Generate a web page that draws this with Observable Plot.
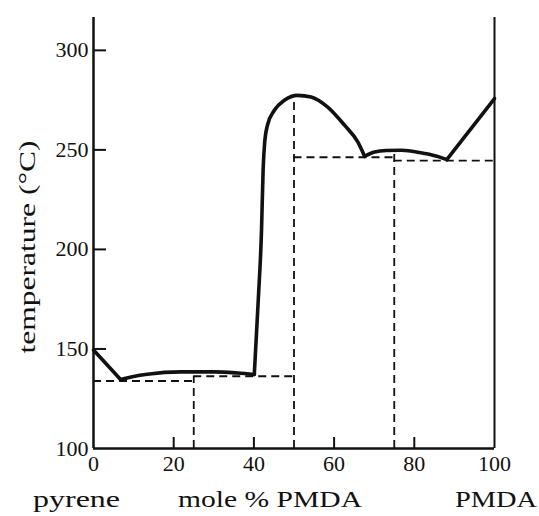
<!DOCTYPE html>
<html><head><meta charset="utf-8">
<script src="https://cdn.jsdelivr.net/npm/d3@7"></script>
<script src="https://cdn.jsdelivr.net/npm/@observablehq/plot@0.6"></script>
<style>
body{margin:0;background:#fff;overflow:hidden}
#wrap{position:relative;width:539px;height:516px;overflow:hidden}
.lab{position:absolute;top:487px;display:inline-block;font-family:'Liberation Serif','Times New Roman',serif;font-size:24px;color:#111;white-space:nowrap;line-height:1;transform-origin:0 0}
</style></head><body><div id="wrap"></div>
<script>
// tick values
const xTickLabels = [0, 20, 40, 60, 80, 100];
const xTickMarks = [20, 40, 60, 80];
const yTickValues = [100, 150, 200, 250, 300];
const yLabel = "temperature (°C)";
const bottomLabels = ["pyrene", "mole % PMDA", "PMDA"];

// liquidus curve segments: [mole % PMDA, temperature °C]
const segPyrene = [[0, 149.5], [6.75, 134.7]];
const segLowComplex = [[6.75, 134.7], [10, 136.2], [13.4, 137.3], [21.75, 138.5], [30.1, 138.5], [36, 137.9], [40.1, 137.2]];
const segHighComplex = [[40.1, 137.2], [41.1, 175], [41.9, 209.6], [42.3, 240], [42.7, 254], [43.4, 262.5], [45.1, 269.9], [47.6, 274.9], [50.9, 277.4], [54.25, 276.6], [58.4, 271.5], [62.6, 262.4], [65.9, 254], [67.6, 246.8]];
const segHump = [[67.6, 246.8], [70.1, 249], [73, 249.7], [76.75, 249.8], [82.6, 248.2], [86, 246.6], [88.1, 245.1]];
const segPMDA = [[88.1, 245.1], [100, 275.8]];

// dashed tie lines: horizontal [x1, x2, temp], vertical [x, t1, t2]
const dashH = [[0, 25, 133.9], [25, 50, 136.3], [50, 75, 246.3], [75, 100, 244.6]];
const dashV = [[25, 100, 136.3], [50, 100, 276.8], [75, 100, 247.8]];

const segments = [segPyrene, segLowComplex, segHighComplex, segHump, segPMDA];
const curve = segments.flatMap((s, i) => s.map(([x, t]) => ({x, t, seg: i})));
const hLines = dashH.map(([x1, x2, t]) => ({x1, x2, t}));
const vLines = dashV.map(([x, t1, t2]) => ({x, t1, t2}));

const ink = "#111";
const serifFont = "'Liberation Serif', 'Times New Roman', serif";
const chart = Plot.plot({
  width: 539,
  height: 480,
  marginTop: 17,
  marginBottom: 32,
  marginLeft: 93,
  marginRight: 45,
  style: {fontFamily: serifFont, fontSize: "22px", color: ink, background: "#fff"},
  x: {domain: [0, 100]},
  y: {domain: [100, 316.5]},
  marks: [
    Plot.ruleY(hLines, {y: "t", x1: "x1", x2: "x2", stroke: ink, strokeWidth: 1.8, strokeDasharray: "8,5"}),
    Plot.ruleX(vLines, {x: "x", y1: "t1", y2: "t2", stroke: ink, strokeWidth: 1.8, strokeDasharray: "8,5"}),
    Plot.ruleX([0], {stroke: ink, strokeWidth: 2.5}),
    Plot.ruleX([100], {stroke: ink, strokeWidth: 2}),
    Plot.ruleY([100], {x1: 0, x2: 100, stroke: ink, strokeWidth: 2.5}),
    Plot.axisY({ticks: yTickValues, tickSize: 0, tickPadding: 5, label: null, fontSize: 22, fontFamily: serifFont}),
    Plot.axisY({ticks: yTickValues.filter(d => d > 100), tickSize: -13, text: null, label: null, strokeWidth: 2}),
    Plot.axisX({ticks: xTickLabels, tickSize: 0, tickPadding: 7, label: null, fontSize: 22, fontFamily: serifFont}),
    Plot.axisX({ticks: xTickMarks, tickSize: -11, text: null, label: null, strokeWidth: 2}),
    Plot.line(curve, {x: "x", y: "t", z: "seg", curve: "monotone-x", stroke: ink, strokeWidth: 3.6, strokeLinejoin: "round", strokeLinecap: "round"}),
    Plot.text([yLabel], {frameAnchor: "left", textAnchor: "middle", rotate: -90, dx: -66, dy: 14, fontSize: 24, fontFamily: serifFont, fill: ink})
  ]
});
const wrap = document.getElementById("wrap");
wrap.appendChild(chart);
// widen the y-axis label like the wide book face of the original
const yl = chart.querySelector('g[aria-label="text"] text');
if (yl) { yl.setAttribute("textLength", 213); yl.setAttribute("lengthAdjust", "spacingAndGlyphs"); }
const lefts = [33, 178, 455];
const widths = [87, 184, 82];
bottomLabels.forEach((t, i) => {
  const s = document.createElement("span");
  s.className = "lab";
  s.textContent = t;
  s.style.left = lefts[i] + "px";
  wrap.appendChild(s);
  const w = s.getBoundingClientRect().width;
  if (w > 0) s.style.transform = `scaleX(${widths[i] / w})`;
});
</script>
</body></html>
